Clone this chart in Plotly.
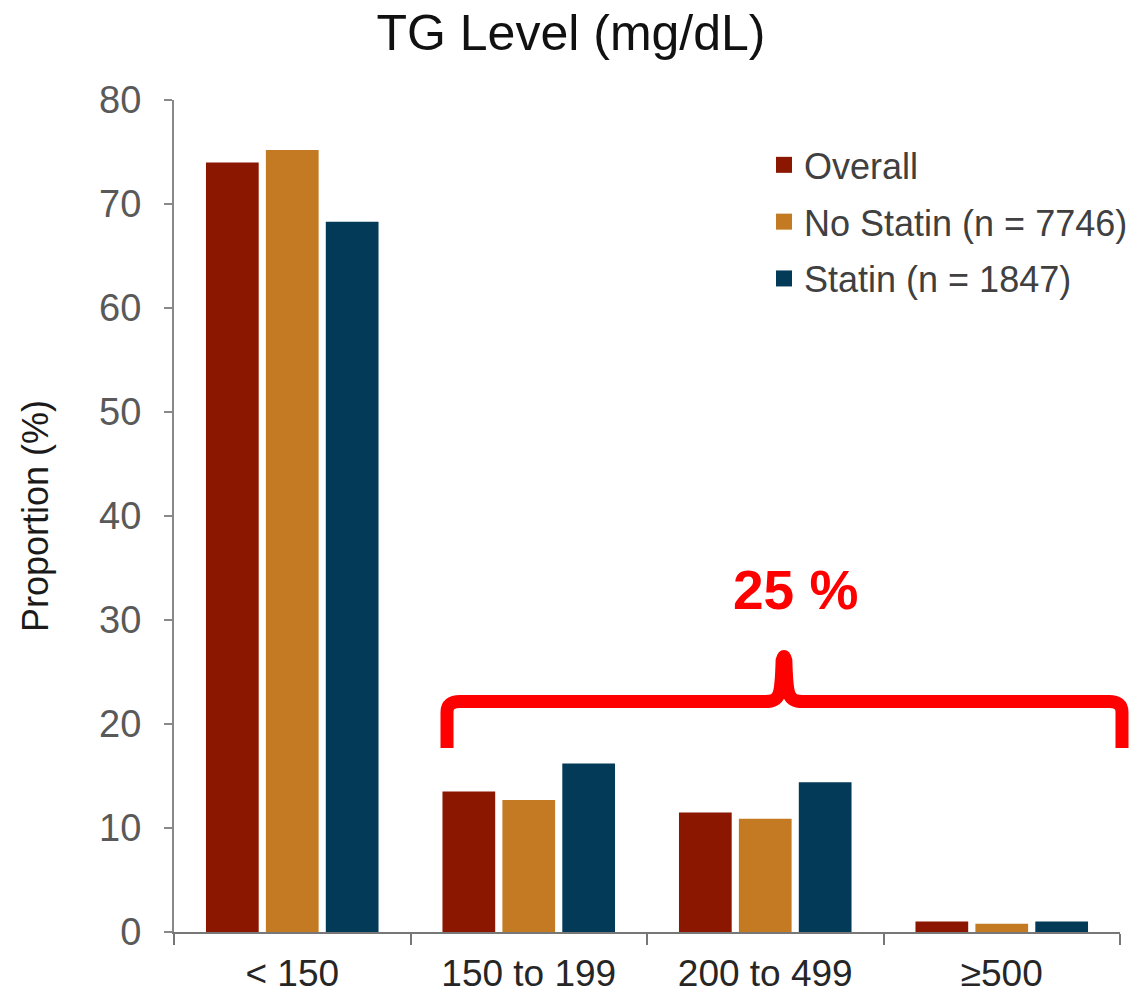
import plotly.graph_objects as go

# ---- data ----
categories = ["< 150", "150 to 199", "200 to 499", "≥500"]
series_names = ["Overall", "No Statin (n = 7746)", "Statin (n = 1847)"]
overall = [74.0, 13.5, 11.5, 1.0]
no_statin = [75.2, 12.7, 10.9, 0.8]
statin = [68.3, 16.2, 14.4, 1.0]
series_values = [overall, no_statin, statin]
colors = ["#8C1700", "#C47A22", "#033A58"]

# bracket annotation (x in paper fraction, y in data units)
brace_label = "25 %"
brace_x_left, brace_x_mid, brace_x_right = 0.2886, 0.6448, 1.0021
brace_y_end, brace_y_bar, brace_y_tip = 17.7, 22.16, 26.6

FONT = "Liberation Sans, Arial, sans-serif"

W, H = 1143, 995

fig = go.Figure()
for name, vals, color in zip(series_names, series_values, colors):
    fig.add_trace(go.Bar(x=categories, y=vals, name=name, marker=dict(color=color, line=dict(width=0)),
                         showlegend=False))
    fig.add_trace(go.Scatter(x=[None], y=[None], mode="markers", name=name, legendgroup=name,
                             marker=dict(symbol="square", size=16, color=color)))

# curly brace path
dx = 0.0137   # corner radius in paper units
dy = 1.0      # corner radius in data units
xm = brace_x_mid
path = (
    f"M {brace_x_left},{brace_y_end} "
    f"L {brace_x_left},{brace_y_bar - dy} "
    f"Q {brace_x_left},{brace_y_bar} {brace_x_left + dx},{brace_y_bar} "
    f"L {xm - 0.020},{brace_y_bar} "
    f"C {xm - 0.004},{brace_y_bar} {xm - 0.003},{brace_y_bar + 0.6} {xm - 0.002},{brace_y_tip - 0.5} "
    f"Q {xm},{brace_y_tip + 0.3} {xm + 0.002},{brace_y_tip - 0.5} "
    f"C {xm + 0.003},{brace_y_bar + 0.6} {xm + 0.004},{brace_y_bar} {xm + 0.020},{brace_y_bar} "
    f"L {brace_x_right - dx},{brace_y_bar} "
    f"Q {brace_x_right},{brace_y_bar} {brace_x_right},{brace_y_bar - dy} "
    f"L {brace_x_right},{brace_y_end}"
)
fig.add_shape(type="path", path=path, xref="paper", yref="y",
              line=dict(color="#FF0000", width=13), fillcolor="rgba(0,0,0,0)", layer="above")

fig.add_annotation(text=f"<b>{brace_label}</b>", x=0.6565, y=32.9, xref="paper", yref="y",
                   showarrow=False, font=dict(family=FONT, size=55, color="#FF0000"),
                   xanchor="center", yanchor="middle")

fig.update_layout(
    width=W, height=H,
    margin=dict(l=174, r=23, t=100, b=63, autoexpand=False),
    paper_bgcolor="white", plot_bgcolor="white",
    barmode="group", bargap=0.24, bargroupgap=0.12,
    title=dict(text="TG Level (mg/dL)", x=571 / W, xref="container", xanchor="center",
               y=1 - 32 / H, yref="container", yanchor="middle",
               font=dict(family=FONT, size=50, color="#111111")),
    legend=dict(x=0.6237, y=0.958, xanchor="left", yanchor="top",
                font=dict(family=FONT, size=36, color="#404040"),
                traceorder="grouped", tracegroupgap=7, bgcolor="rgba(0,0,0,0)"),
    xaxis=dict(type="category", range=[-0.5, 3.5], tickson="boundaries", automargin=False,
               ticks="outside", ticklen=11, tickwidth=2, tickcolor="#777777",
               showline=True, linecolor="#777777", linewidth=2, showgrid=False,
               tickfont=dict(family=FONT, size=37, color="#262626"), ticklabelstandoff=8),
    yaxis=dict(range=[0, 80], dtick=10, tick0=0, ticks="outside", ticklen=8, tickwidth=2,
               tickcolor="#888888", showline=True, linecolor="#888888", linewidth=2,
               showgrid=False, zeroline=False, automargin=False,
               tickfont=dict(family=FONT, size=38, color="#595959"), ticklabelstandoff=15,
               title=dict(text="Proportion (%)", standoff=40,
                          font=dict(family=FONT, size=36, color="#1a1a1a"))),
)

fig.write_html("out.html", config={"displayModeBar": False},
               post_script="document.body.style.margin='0px';document.body.style.overflow='hidden';")
